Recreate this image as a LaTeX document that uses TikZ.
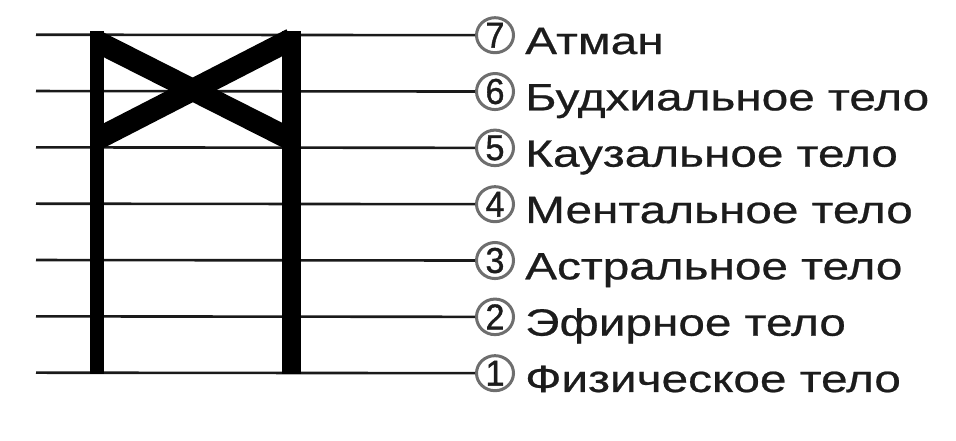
\documentclass[tikz,border=0pt]{standalone}
\usepackage{fontspec}
\usetikzlibrary{shapes.geometric}
\setmainfont{Liberation Sans}
\newfontfamily\lblfont[FakeStretch=1.256,FakeBold=0.6]{Liberation Sans}
\newfontfamily\digfont[FakeStretch=0.95,FakeBold=1.0]{Liberation Sans}
\definecolor{ink}{HTML}{1A1A1A}
\definecolor{ringgrey}{HTML}{6E6E6E}
\definecolor{txt}{HTML}{1C1C1C}
\tikzset{
  level/.style={draw=ink, line width=2.6pt},
  barfill/.style={fill=black, draw=none},
  cross/.style={draw=black, line width=22pt, line cap=butt},
  ring/.style={ellipse, draw=ringgrey, line width=3pt, minimum width=37pt, minimum height=34pt, inner sep=0pt, text=txt,
    font=\digfont\fontsize{36}{36}\selectfont},
  lbl/.style={anchor=base west, inner sep=0pt, text=txt, font=\lblfont\fontsize{38}{40}\selectfont}
}
\begin{document}
\begin{tikzpicture}[x=1pt,y=-1pt]
\useasboundingbox (0,0) rectangle (956,440);
\fill[white] (0,0) rectangle (956,440);
% levels
\foreach \k/\name/\txt in {0/7/Атман,1/6/Будхиальное тело,2/5/Каузальное тело,3/4/Ментальное тело,4/3/Астральное тело,5/2/Эфирное тело,6/1/Физическое тело}{
  \pgfmathsetmacro{\yy}{34.7+56.33*\k}
  \coordinate (s\name) at (36,\yy);
  \node[ring] (c\name) at (495,\yy+0.5) {\name};
  \node[lbl] (t\name) at (525,\yy+19.3) {\txt};
  \draw[level] (s\name) -- (c\name);
}
% bars
\fill[barfill] (90,31) rectangle (104,374);
\fill[barfill] (282,31) rectangle (301,374);
% cross
\coordinate (d1a) at (97,41.5);
\coordinate (d1b) at (291.5,139.8);
\coordinate (d2a) at (97,139.1);
\coordinate (d2b) at (291.5,39.1);
\draw[cross] (d1a) -- (d1b);
\draw[cross] (d2a) -- (d2b);
\end{tikzpicture}
\end{document}
